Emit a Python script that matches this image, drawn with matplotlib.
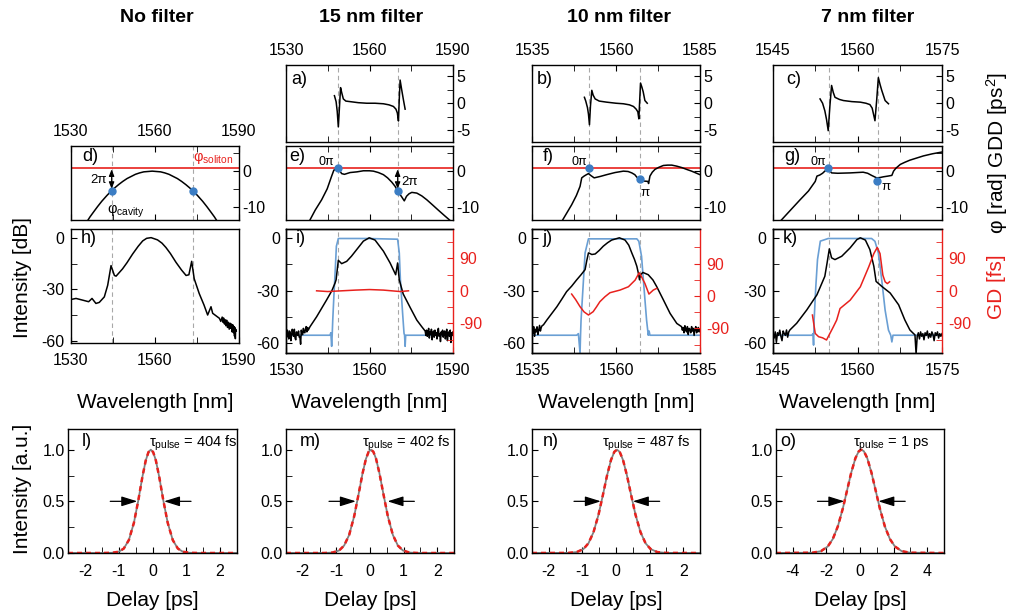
import matplotlib.pyplot as plt

plt.rcParams['font.family'] = ['Liberation Sans', 'DejaVu Sans']
plt.rcParams['mathtext.fontset'] = 'custom'
plt.rcParams['mathtext.rm'] = 'Liberation Sans'
plt.rcParams['mathtext.it'] = 'Liberation Sans:italic'
plt.rcParams['axes.unicode_minus'] = False
plt.rcParams['xtick.direction'] = 'in'
plt.rcParams['ytick.direction'] = 'in'
plt.rcParams['xtick.labelsize'] = 11.5
plt.rcParams['ytick.labelsize'] = 11.5
plt.rcParams['xtick.major.size'] = 4
plt.rcParams['ytick.major.size'] = 4
plt.rcParams['xtick.minor.size'] = 4
plt.rcParams['ytick.minor.size'] = 4
plt.rcParams['axes.linewidth'] = 1.0

RED = '#e8211d'
BLUE = '#6a9fd4'
DOT = '#3b7dc4'
DASH = '#a8a8a8'

titles = ['No filter', '15 nm filter', '10 nm filter', '7 nm filter']
wl_ranges = [(1530, 1590), (1530, 1590), (1535, 1585), (1545, 1575)]
wl_ticks = [[1530, 1560, 1590], [1530, 1560, 1590], [1535, 1560, 1585], [1545, 1560, 1575]]
wl_minor = [[1545, 1575], [1545, 1575], [1547.5, 1572.5], [1552.5, 1567.5]]
filter_edges = [(1544.5, 1573.5), (1548.8, 1570.1), (1552.1, 1567.1), (1555.0, 1563.7)]
soliton_phase = 0.8

# group delay dispersion of the filtered cavities [ps^2]
gdd_wl_15 = [1547.4, 1548.0, 1548.4, 1548.8, 1549.2, 1549.6, 1550.0, 1550.6, 1551.5, 1553.0,
             1556.0, 1559.0, 1562.0, 1565.0, 1567.0, 1568.6, 1569.5, 1570.0, 1570.4, 1570.7,
             1571.0, 1571.6, 1572.2, 1572.8]
gdd_15 = [1.4, 0.3, -1.5, -4.4, -0.8, 2.9, 2.0, 0.8, 0.4, 0.3,
          0.1, 0.0, 0.0, -0.1, -0.3, -0.6, -1.1, -1.8, -3.3, 0.8,
          4.3, 2.4, 0.6, -1.1]
gdd_wl_10 = [1550.6, 1551.0, 1551.5, 1551.8, 1552.1, 1552.4, 1552.8, 1553.2, 1553.8, 1555.0,
             1557.2, 1560.0, 1562.2, 1564.0, 1565.2, 1566.0, 1566.5, 1566.8, 1567.05, 1567.3,
             1567.7, 1568.1, 1568.6, 1569.3]
gdd_10 = [1.1, 0.4, -0.8, -2.0, -4.0, -0.5, 2.4, 1.5, 0.8, 0.4,
          0.2, 0.0, -0.1, -0.3, -0.6, -1.1, -1.6, -2.9, 0.5, 3.75,
          3.0, 2.1, 0.5, 0.0]
gdd_wl_7 = [1553.35, 1553.8, 1554.2, 1554.5, 1554.8, 1555.1, 1555.4, 1555.7, 1556.0, 1556.8,
            1557.5, 1559.0, 1560.5, 1561.5, 1562.2, 1562.6, 1562.9, 1563.1, 1563.4, 1563.7,
            1564.0, 1564.3, 1564.9, 1565.5]
gdd_7 = [0.8, 0.0, -1.4, -3.0, -5.1, -0.5, 3.3, 2.0, 1.1, 0.7,
         0.5, 0.3, 0.2, 0.0, -0.25, -0.9, -2.3, -3.25, 0.5, 4.75,
         3.5, 2.4, 0.5, -0.1]

# round-trip cavity phase [rad]
phase_wl_no = [1535.5, 1536.8, 1538.0, 1539.5, 1541.0, 1542.8, 1544.5, 1545.8, 1547.0, 1548.5,
               1550.0, 1551.5, 1553.0, 1554.5, 1556.0, 1557.5, 1559.0, 1560.5, 1562.0, 1563.5,
               1565.0, 1566.5, 1568.0, 1569.5, 1571.0, 1572.2, 1573.5, 1575.2, 1577.0, 1578.5,
               1580.0, 1581.2, 1582.5]
phase_no = [-14.5, -12.9, -11.6, -10.0, -8.5, -6.9, -5.5, -4.6, -3.8, -2.9,
            -2.1, -1.5, -0.9, -0.5, -0.2, -0.1, 0.0, -0.1, -0.2, -0.5,
            -0.9, -1.5, -2.1, -2.9, -3.8, -4.6, -5.5, -6.9, -8.5, -10.0,
            -11.6, -12.9, -14.5]
phase_wl_15 = [1538.6, 1540.5, 1542.8, 1544.8, 1546.4, 1547.2, 1548.0, 1548.8, 1549.4, 1550.0,
               1551.0, 1553.0, 1555.5, 1557.8, 1560.0, 1561.4, 1563.2, 1565.0, 1566.5, 1568.0,
               1569.2, 1570.1, 1571.6, 1572.5, 1573.3, 1574.2, 1575.2, 1577.0, 1578.8, 1580.6,
               1582.6, 1584.7, 1587.0, 1589.5]
phase_15 = [-13.8, -11.0, -8.1, -5.0, -1.4, 0.3, 0.5, 0.7, 0.0, -0.7,
            -0.9, -0.4, -0.2, 0.1, 0.1, 0.0, -0.4, -1.0, -1.9, -3.1,
            -4.3, -5.6, -7.3, -8.4, -7.1, -6.4, -6.0, -6.2, -7.0, -8.1,
            -9.5, -11.0, -12.6, -14.3]
phase_wl_10 = [1543.8, 1545.3, 1546.8, 1548.2, 1549.3, 1549.8, 1550.5, 1551.2, 1551.8, 1552.6,
               1553.5, 1555.3, 1557.2, 1559.7, 1562.2, 1563.6, 1564.7, 1565.6, 1566.2, 1567.1,
               1568.3, 1569.5, 1569.7, 1570.1, 1570.8, 1571.6, 1572.8, 1574.1, 1575.4, 1576.6,
               1578.1, 1579.6, 1581.0, 1582.5, 1585.0]
phase_10 = [-14.3, -11.9, -9.5, -6.9, -4.3, -1.9, -1.4, -1.0, -0.7, -1.3,
            -1.9, -1.5, -1.0, -0.4, 0.0, -0.1, -0.5, -1.0, -1.7, -2.4,
            -2.8, -2.9, -3.5, -1.4, -0.3, 0.5, 1.1, 1.6, 1.7, 1.7,
            1.4, 1.0, 0.5, 0.0, -1.0]
phase_wl_7 = [1546.2, 1548.0, 1549.8, 1551.3, 1552.5, 1552.8, 1553.3, 1553.8, 1554.2, 1554.6,
              1555.0, 1555.4, 1556.5, 1558.7, 1561.0, 1561.8, 1562.5, 1563.4, 1564.0, 1564.6,
              1565.4, 1566.1, 1566.4, 1566.8, 1567.6, 1568.4, 1569.3, 1570.5, 1571.7, 1573.3,
              1575.0]
phase_7 = [-14.3, -11.2, -8.1, -5.6, -2.9, -1.4, -1.1, -0.6, 0.0, 0.5,
           0.3, -0.5, -0.6, -0.5, -0.3, -0.6, -1.2, -1.9, -1.8, -1.6,
           -1.4, -1.2, 0.0, 0.8, 1.9, 2.5, 3.1, 3.7, 4.3, 4.9,
           5.4]
dot_wl = [[1544.5, 1573.5], [1548.8, 1570.1], [1552.1, 1567.1], [1554.8, 1563.4]]
dot_phase = [[-5.5, -5.5], [0.8, -5.5], [0.8, -2.3], [0.8, -2.9]]

# optical spectra [dB]
spec_wl_no = [1530.0, 1531.8, 1534.2, 1536.3, 1537.5, 1538.9, 1540.1, 1541.9, 1543.1, 1544.3,
              1545.5, 1546.1, 1548.4, 1550.0, 1552.0, 1554.0, 1555.6, 1557.0, 1558.6, 1560.9,
              1562.5, 1563.9, 1565.5, 1567.5, 1569.5, 1571.1, 1572.1, 1573.1, 1574.0, 1575.8,
              1577.5, 1578.8, 1580.0, 1580.6, 1582.0, 1583.0, 1583.5, 1584.0, 1584.3, 1584.5,
              1584.8, 1585.0, 1585.3, 1585.6, 1585.9, 1586.2, 1586.5, 1586.8, 1587.0, 1587.3,
              1587.5, 1587.8, 1588.0, 1588.2, 1588.4, 1588.5, 1588.7, 1588.8, 1589.0]
spec_no = [-35.8, -35.2, -36.2, -37.1, -35.2, -38.1, -37.5, -34.3, -27.6, -16.2,
           -21.9, -22.3, -18.1, -14.5, -9.5, -5.0, -1.9, -0.4, 0.0, -1.3,
           -3.2, -5.7, -9.2, -14.3, -18.8, -21.9, -21.5, -13.7, -23.8, -32.4,
           -39.0, -44.8, -40.0, -43.8, -45.5, -46.7, -48.5, -46.0, -49.0, -46.5,
           -50.0, -47.5, -51.0, -47.8, -52.0, -49.0, -53.0, -49.5, -52.5, -50.0,
           -54.5, -50.5, -55.0, -51.5, -57.0, -52.0, -58.5, -53.0, -54.0]
spec_wl_15 = [1530.0, 1530.25, 1530.5, 1530.75, 1531.0, 1531.25, 1531.5, 1531.75, 1532.0, 1532.25,
              1532.5, 1532.75, 1533.0, 1533.25, 1533.5, 1533.75, 1534.0, 1534.25, 1534.5, 1534.75,
              1535.0, 1535.25, 1535.5, 1535.75, 1536.0, 1536.25, 1536.5, 1536.75, 1537.0, 1537.25,
              1537.5, 1537.75, 1538.0,
              1538.6, 1541.0, 1544.6, 1546.5, 1547.6, 1548.0, 1548.8, 1550.0, 1551.8, 1553.5,
              1555.4, 1557.8, 1559.9, 1562.0, 1565.0, 1567.4, 1569.4, 1570.1, 1570.7, 1572.1,
              1574.6, 1577.0, 1578.8,
              1580.0, 1580.25, 1580.5, 1580.75, 1581.0, 1581.25, 1581.5, 1581.75, 1582.0, 1582.25,
              1582.5, 1582.75, 1583.0, 1583.25, 1583.5, 1583.75, 1584.0, 1584.25, 1584.5, 1584.75,
              1585.0, 1585.25, 1585.5, 1585.75, 1586.0, 1586.25, 1586.5, 1586.75, 1587.0, 1587.25,
              1587.5, 1587.75, 1588.0, 1588.25, 1588.5, 1588.75, 1589.0, 1589.25, 1589.5, 1589.75,
              1590.0]
spec_15 = [-53.5, -56.5, -52.5, -55.0, -57.5, -53.0, -54.0, -58.5, -55.5, -52.0,
           -54.5, -56.0, -52.0, -57.0, -58.0, -53.5, -54.5, -55.5, -53.0, -56.5,
           -56.5, -60.5, -52.5, -55.0, -55.0, -51.5, -53.5, -54.0, -52.0, -50.5,
           -53.5, -51.0, -52.5,
           -50.6, -44.9, -35.3, -30.0, -25.8, -23.9, -12.8, -14.7, -13.4, -10.5,
           -6.7, -1.9, 0.0, -1.3, -7.6, -14.3, -21.0, -14.3, -23.9, -31.9,
           -39.6, -46.8, -50.6,
           -53.0, -55.5, -52.5, -56.0, -54.0, -51.5, -57.0, -53.5, -55.0, -52.0,
           -58.0, -54.5, -53.0, -56.5, -52.5, -55.5, -54.0, -57.5, -53.0, -51.5,
           -56.0, -54.5, -59.0, -53.5, -55.0, -52.5, -56.5, -54.0, -53.0, -57.5,
           -55.0, -52.0, -58.5, -54.5, -53.5, -56.0, -52.5, -59.5, -54.0, -55.5,
           -53.5]
spec_wl_10 = [1535.0, 1535.25, 1535.5, 1535.75, 1536.0, 1536.25, 1536.5, 1536.75, 1537.0, 1537.25,
              1537.5, 1537.75, 1538.0,
              1538.4, 1539.4, 1540.9, 1542.4, 1543.9, 1545.3, 1546.8, 1548.3, 1549.6, 1550.8,
              1551.3, 1551.8, 1552.3, 1552.8, 1553.8, 1555.0, 1556.2, 1557.5, 1558.7, 1561.0,
              1562.7, 1563.8, 1564.7, 1565.5, 1566.2, 1566.7, 1567.0, 1567.3, 1568.0, 1569.6,
              1571.0, 1572.1, 1574.1, 1576.1, 1578.1,
              1579.5, 1579.75, 1580.0, 1580.25, 1580.5, 1580.75, 1581.0, 1581.25, 1581.5, 1581.75,
              1582.0, 1582.25, 1582.5, 1582.75, 1583.0, 1583.25, 1583.5, 1583.75, 1584.0, 1584.25,
              1584.5, 1584.75, 1585.0]
spec_10 = [-51.6, -54.5, -50.5, -56.0, -52.0, -53.5, -50.6, -55.0, -52.5, -49.8,
           -53.0, -51.0, -50.0,
           -49.5, -46.8, -43.0, -39.2, -34.8, -30.6, -27.5, -23.9, -21.0, -18.1,
           -13.0, -8.6, -9.0, -9.5, -9.2, -7.2, -4.8, -2.8, -1.3, 0.0,
           -1.3, -4.2, -8.6, -12.3, -16.2, -20.5, -23.9, -21.0, -19.7, -21.0,
           -24.0, -27.7, -35.3, -43.0, -48.7,
           -50.5, -52.5, -51.0, -54.0, -50.0, -52.5, -53.5, -50.5, -55.0, -51.5,
           -52.0, -54.0, -50.5, -53.0, -51.5, -55.5, -52.0, -50.5, -54.0, -52.5,
           -51.0, -53.5, -52.0]
spec_wl_7 = [1545.0, 1545.2, 1545.4, 1545.6, 1545.8, 1546.0, 1546.2, 1546.4, 1546.6, 1546.8,
             1547.0, 1547.2, 1547.4, 1547.6, 1547.8, 1548.0,
             1549.2, 1551.0, 1552.8, 1554.2, 1554.6, 1555.0, 1555.4, 1556.0, 1557.2, 1558.7,
             1559.9, 1560.5, 1561.4, 1562.2, 1562.9, 1563.3, 1564.3, 1565.8, 1567.3, 1568.4,
             1569.3, 1569.8, 1570.2, 1570.4,
             1570.6, 1570.8, 1571.0, 1571.2, 1571.4, 1571.6, 1571.8, 1572.0, 1572.2, 1572.4,
             1572.6, 1572.8, 1573.0, 1573.2, 1573.4, 1573.6, 1573.8, 1574.0, 1574.2, 1574.4,
             1574.6, 1574.8, 1575.0]
spec_7 = [-54.8, -57.0, -53.5, -59.5, -54.0, -55.5, -52.5, -56.0, -58.5, -53.0,
          -54.5, -55.5, -52.4, -56.5, -53.5, -52.4,
          -48.6, -41.0, -32.4, -21.9, -14.3, -6.3, -11.4, -12.4, -10.5, -5.7,
          -1.0, 0.0, -1.3, -6.7, -16.2, -24.8, -27.6, -31.4, -38.1, -46.7,
          -52.4, -54.0, -55.2, -66.0,
          -56.0, -54.0, -57.5, -53.5, -56.0, -54.5, -58.0, -54.0, -55.5, -53.0,
          -57.0, -54.5, -56.5, -53.5, -55.0, -58.5, -54.0, -55.5, -53.5, -57.0,
          -54.5, -56.0, -54.5]

# filter transmission [dB]
filt_wl_15 = [1530.0, 1545.8, 1546.1, 1546.4, 1546.6, 1546.8, 1547.2, 1547.7, 1548.1, 1548.8,
              1559.0, 1570.1, 1570.7, 1571.1, 1571.9, 1572.4, 1572.6, 1572.8, 1573.0, 1590.0]
filt_15 = [-55.4, -55.4, -54.0, -61.7, -55.0, -46.7, -33.3, -18.0, -4.8, -0.4,
           -0.4, -0.8, -8.6, -23.9, -43.0, -54.3, -55.4, -61.7, -55.4, -55.4]
filt_wl_10 = [1535.0, 1548.3, 1548.8, 1549.3, 1549.45, 1549.6, 1550.2, 1550.8, 1551.8, 1559.0,
              1566.2, 1566.8, 1567.6, 1568.3, 1569.1, 1569.6, 1569.85, 1570.1, 1585.0]
filt_10 = [-55.4, -55.4, -54.5, -65.5, -55.0, -46.8, -27.7, -8.6, -0.6, -0.6,
           -0.6, -2.0, -10.5, -27.7, -46.8, -55.4, -53.0, -55.4, -55.4]
filt_wl_7 = [1545.0, 1551.9, 1552.1, 1552.2, 1552.3, 1552.6, 1552.9, 1553.4, 1554.8, 1562.5,
             1563.1, 1563.7, 1564.3, 1564.9, 1565.5, 1565.9, 1566.1, 1566.3, 1575.0]
filt_7 = [-55.4, -55.4, -54.5, -61.0, -46.8, -27.7, -12.4, -1.9, -0.4, -0.4,
          -2.0, -8.6, -23.9, -41.1, -52.5, -55.4, -59.2, -55.4, -55.4]

# group delay [fs]
gd_wl_15 = [1541.0, 1545.0, 1550.0, 1555.0, 1560.0, 1565.0, 1568.0, 1571.0, 1574.0]
gd_15 = [0.0, -2.0, 0.0, 2.0, 3.5, 2.0, 0.0, -2.0, 0.0]
gd_wl_10 = [1546.8, 1548.0, 1549.3, 1550.5, 1551.8, 1553.2, 1554.2, 1555.2, 1556.7, 1558.2,
            1561.2, 1563.7, 1565.7, 1566.9, 1567.6, 1568.6, 1569.8, 1571.1, 1572.1]
gd_10 = [5.5, -10.0, -29.5, -44.0, -52.6, -43.4, -30.0, -15.7, -2.0, 9.2,
         16.6, 25.8, 44.3, 64.6, 53.5, 35.0, 5.5, 16.6, 21.2]
gd_wl_7 = [1552.0, 1552.5, 1553.1, 1553.8, 1554.5, 1555.1, 1555.7, 1556.3, 1556.9, 1558.7,
           1560.5, 1562.0, 1562.9, 1563.5, 1564.0, 1564.5, 1564.9, 1565.3, 1565.7]
gd_7 = [-67.0, -118.0, -127.0, -130.0, -136.0, -118.0, -100.0, -81.0, -49.0, -25.8,
        11.0, 66.5, 103.0, 120.0, 103.0, 43.4, 25.0, 20.0, 25.0]
gd_limits = [None, (-172, 171), (-158, 186), (-172, 171)]

# autocorrelation traces
ac_delay_l = [-2.5, -1.5, -1.2, -1.0, -0.85, -0.7, -0.55, -0.42, -0.3, -0.2, -0.12, -0.05,
              0.02, 0.1, 0.2, 0.32, 0.45, 0.6, 0.75, 0.9, 1.1, 1.4, 2.5]
ac_l = [0.0, 0.0, 0.002, 0.012, 0.043, 0.125, 0.292, 0.509, 0.735, 0.895, 0.976, 1.0,
        0.976, 0.895, 0.735, 0.509, 0.292, 0.125, 0.043, 0.012, 0.002, 0.0, 0.0]
ac_delay_m = [-2.5, -1.6, -1.37, -1.12, -0.92, -0.77, -0.62, -0.47, -0.34, -0.22, -0.12, -0.04,
              0.03, 0.1, 0.18, 0.28, 0.4, 0.53, 0.68, 0.83, 0.98, 1.18, 1.43, 2.5]
ac_m = [0.0, 0.0, 0.0, 0.004, 0.024, 0.072, 0.175, 0.357, 0.569, 0.773, 0.912, 0.98,
        1.0, 0.98, 0.912, 0.773, 0.569, 0.357, 0.175, 0.072, 0.024, 0.004, 0.0, 0.0]
ac_delay_n = [-2.5, -1.42, -1.17, -0.97, -0.82, -0.67, -0.52, -0.39, -0.27, -0.15, -0.05, 0.03,
              0.11, 0.21, 0.33, 0.45, 0.58, 0.73, 0.88, 1.03, 1.23, 1.48, 2.5]
ac_n = [0.0, 0.001, 0.009, 0.038, 0.094, 0.201, 0.371, 0.561, 0.745, 0.899, 0.979, 1.0,
        0.979, 0.899, 0.745, 0.561, 0.371, 0.201, 0.094, 0.038, 0.009, 0.001, 0.0]
ac_delay_o = [-5.0, -2.82, -2.32, -1.92, -1.62, -1.32, -1.02, -0.77, -0.52, -0.27, -0.07, 0.08,
              0.23, 0.43, 0.68, 0.93, 1.18, 1.48, 1.78, 2.08, 2.48, 2.98, 5.0]
ac_o = [0.0, 0.003, 0.018, 0.063, 0.135, 0.257, 0.432, 0.606, 0.779, 0.919, 0.985, 1.0,
        0.985, 0.919, 0.779, 0.606, 0.432, 0.257, 0.135, 0.063, 0.018, 0.003, 0.0]
pulse_widths = ['404 fs', '402 fs', '487 fs', '1 ps']
ac_fwhm_marks = [(-0.45, 0.34), (-0.42, 0.52), (-0.45, 0.50), (-0.93, 1.09)]

gdd_wl = [None, gdd_wl_15, gdd_wl_10, gdd_wl_7]
gdd = [None, gdd_15, gdd_10, gdd_7]
phase_wl = [phase_wl_no, phase_wl_15, phase_wl_10, phase_wl_7]
phase = [phase_no, phase_15, phase_10, phase_7]
spec_wl = [spec_wl_no, spec_wl_15, spec_wl_10, spec_wl_7]
spec = [spec_no, spec_15, spec_10, spec_7]
filt_wl = [None, filt_wl_15, filt_wl_10, filt_wl_7]
filt = [None, filt_15, filt_10, filt_7]
gd_wl = [None, gd_wl_15, gd_wl_10, gd_wl_7]
gd = [None, gd_15, gd_10, gd_7]
ac_delay = [ac_delay_l, ac_delay_m, ac_delay_n, ac_delay_o]
ac = [ac_l, ac_m, ac_n, ac_o]

fig = plt.figure(figsize=(10.1, 6.16), dpi=100)
W, H = 1010, 616


def panel(x0, x1, y0, y1):
    return fig.add_axes([x0 / W, 1 - y1 / H, (x1 - x0) / W, (y1 - y0) / H])


def wl_axis(ax, c):
    ax.set_xlim(*wl_ranges[c])
    ax.set_xticks(wl_ticks[c])
    ax.set_xticks(wl_minor[c], minor=True)
    for x in filter_edges[c]:
        ax.axvline(x, color=DASH, lw=0.8, ls=(0, (4, 3)), zorder=0)


def label(ax, s, x, y):
    ax.text(x, y, s, transform=ax.transAxes, fontsize=13, ha='left', va='top')


def double_arrow(ax, x, y_top, y_bot):
    ax.annotate('', xy=(x, y_bot), xytext=(x, y_top),
                arrowprops=dict(arrowstyle='<|-|>,head_length=0.5,head_width=0.2',
                                color='k', lw=0.8, shrinkA=0, shrinkB=0,
                                mutation_scale=8))


spec_cols = [(71, 239), (286, 453), (532, 700), (773, 942)]
ac_cols = [(68, 237), (286, 454), (532, 700), (776, 944)]
gdd_labels = [None, 'a)', 'b)', 'c)']
phase_labels = ['d)', 'e)', 'f)', 'g)']
spec_labels = ['h)', 'i)', 'j)', 'k)']
ac_labels = ['l)', 'm)', 'n)', 'o)']
title_x = [157, 371, 619, 868]

phase_axes = []
for c in range(4):
    x0, x1 = spec_cols[c]
    fig.text(title_x[c] / W, 1 - 17 / H, titles[c], fontsize=14, fontweight='bold',
             ha='center', va='center')

    # GDD
    if c > 0:
        ax = panel(x0, x1, 65, 142)
        wl_axis(ax, c)
        ax.plot(gdd_wl[c], gdd[c], color='k', lw=1.1)
        ax.set_ylim(-7.2, 7.1)
        ax.set_yticks([-5, 0, 5])
        ax.set_yticks([-2.5, 2.5], minor=True)
        ax.tick_params(which='both', top=True, bottom=True, left=False, right=True,
                       labeltop=True, labelbottom=False, labelleft=False, labelright=True)
        ax.tick_params(axis='x', pad=5)
        ax.tick_params(axis='y', pad=2.5)
        label(ax, gdd_labels[c], 0.03 if c < 3 else 0.08, 0.92)

    # cavity phase
    ax = panel(x0, x1, 146, 220)
    wl_axis(ax, c)
    ax.axhline(soliton_phase, color=RED, lw=1.2, zorder=2)
    ax.plot(phase_wl[c], phase[c], color='k', lw=1.1, zorder=3)
    ax.plot(dot_wl[c], dot_phase[c], 'o', color=DOT, ms=5, zorder=5)
    ax.set_ylim(-13.8, 7.1)
    ax.set_yticks([-10, 0])
    ax.set_yticks([-5, 5], minor=True)
    ax.tick_params(which='both', top=True, bottom=True, left=False, right=True,
                   labeltop=(c == 0), labelbottom=False, labelleft=False, labelright=True)
    ax.tick_params(axis='x', pad=5)
    ax.tick_params(axis='y', pad=2.5)
    label(ax, phase_labels[c], 0.065 if c != 1 else 0.02, 0.97)
    phase_axes.append(ax)

    # spectrum
    ax = panel(x0, x1, 229, 343 if c == 0 else 353)
    wl_axis(ax, c)
    if c > 0:
        ax.plot(filt_wl[c], filt[c], color=BLUE, lw=1.2, zorder=2)
    ax.plot(spec_wl[c], spec[c], color='k', lw=1.1, zorder=3)
    ax.set_ylim(-61, 5) if c == 0 else ax.set_ylim(-65.5, 5)
    ax.set_yticks([-60, -30, 0])
    ax.set_yticks([-45, -15], minor=True)
    ax.tick_params(which='both', top=False, right=False)
    ax.tick_params(axis='x', pad=7)
    ax.tick_params(axis='y', pad=4.5)
    label(ax, spec_labels[c], 0.06, 0.99)
    fig.text((x0 + x1) / 2 / W, 1 - 402 / H, 'Wavelength [nm]', fontsize=15,
             ha='center', va='center')
    if c > 0:
        ax.spines['right'].set_visible(False)
        ax2 = ax.twinx()
        ax2.plot(gd_wl[c], gd[c], color=RED, lw=1.1)
        ax2.set_ylim(*gd_limits[c])
        ax2.set_yticks([-90, 0, 90])
        ax2.set_yticks([-135, -45, 45, 135], minor=True)
        ax2.spines['right'].set_color(RED)
        ax2.tick_params(axis='y', which='both', colors=RED, pad=4.5)

    # autocorrelation
    a0, a1 = ac_cols[c]
    ax = panel(a0, a1, 429, 553)
    ax.plot(ac_delay[c], ac[c], color='#808080', lw=1.3)
    ax.plot(ac_delay[c], ac[c], color=RED, lw=1.8, ls=(0, (2.0, 1.6)))
    span = 5 if c == 3 else 2.5
    ax.set_xlim(-span, span)
    ax.set_ylim(0, 1.2)
    ax.set_xticks([-4, -2, 0, 2, 4] if c == 3 else [-2, -1, 0, 1, 2])
    ax.set_xticks([-5, -3, -1, 1, 3, 5] if c == 3 else [-2.5, -1.5, -0.5, 0.5, 1.5, 2.5],
                  minor=True)
    ax.set_yticks([0, 0.5, 1.0])
    ax.set_yticks([0.25, 0.75], minor=True)
    ax.yaxis.set_major_formatter('{x:.1f}')
    ax.tick_params(which='both', top=False, right=False)
    ax.tick_params(axis='x', pad=8)
    ax.tick_params(axis='y', pad=2.5)
    left_tip, right_tip = ac_fwhm_marks[c]
    reach = 0.8 * span / 2.5
    for tip, tail in [(left_tip, left_tip - reach), (right_tip, right_tip + reach)]:
        ax.annotate('', xy=(tip, 0.5), xytext=(tail, 0.5),
                    arrowprops=dict(arrowstyle='-|>,head_length=0.8,head_width=0.25',
                                    color='k', lw=0.9, shrinkA=0, shrinkB=0,
                                    mutation_scale=12))
    text_x = [-0.1, -0.25, -0.43, -0.2][c] * span / 2.5
    ax.text(text_x, 1.06, r'τ$_{\mathrm{pulse}}$ = ' + pulse_widths[c], fontsize=10.5,
            ha='left', va='center')
    label(ax, ac_labels[c], [0.08, 0.08, 0.065, 0.025][c], 0.97)
    fig.text((a0 + a1) / 2 / W, 1 - 600 / H, 'Delay [ps]', fontsize=15,
             ha='center', va='center')

# annotations in the phase panels
ax = phase_axes[0]
ax.text(0.97, soliton_phase + 0.6, r'φ$_{\mathrm{soliton}}$', color=RED, fontsize=10.5,
        ha='right', va='bottom', transform=ax.get_yaxis_transform())
double_arrow(ax, 1544.5, soliton_phase - 0.3, -5.0)
ax.text(1542.8, -2.6, '2π', fontsize=9.5, ha='right', va='center')
ax.text(1549.5, -11.3, r'φ$_{\mathrm{cavity}}$', fontsize=10.5, ha='center', va='center')

ax = phase_axes[1]
ax.text(1541.6, 2.7, '0π', fontsize=9, ha='left', va='center')
double_arrow(ax, 1570.1, soliton_phase - 0.3, -5.0)
ax.text(1571.6, -3.2, '2π', fontsize=9.5, ha='left', va='center')

ax = phase_axes[2]
ax.text(1546.8, 2.7, '0π', fontsize=9, ha='left', va='center')
ax.text(1568.8, -6.2, 'π', fontsize=9.5, ha='center', va='center')

ax = phase_axes[3]
ax.text(1551.6, 2.7, '0π', fontsize=9, ha='left', va='center')
ax.text(1565.0, -4.5, 'π', fontsize=9.5, ha='center', va='center')

fig.text(23 / W, 1 - 277 / H, 'Intensity [dB]', fontsize=15, rotation=90,
         ha='center', va='center')
fig.text(23 / W, 1 - 489 / H, 'Intensity [a.u.]', fontsize=15, rotation=90,
         ha='center', va='center')
fig.text(997 / W, 1 - 153 / H, 'φ [rad] GDD [ps$^2$]', fontsize=15, rotation=90,
         ha='center', va='center')
fig.text(997 / W, 1 - 287 / H, 'GD [fs]', fontsize=15, rotation=90, color=RED,
         ha='center', va='center')

fig.savefig('out.png', dpi=100)
